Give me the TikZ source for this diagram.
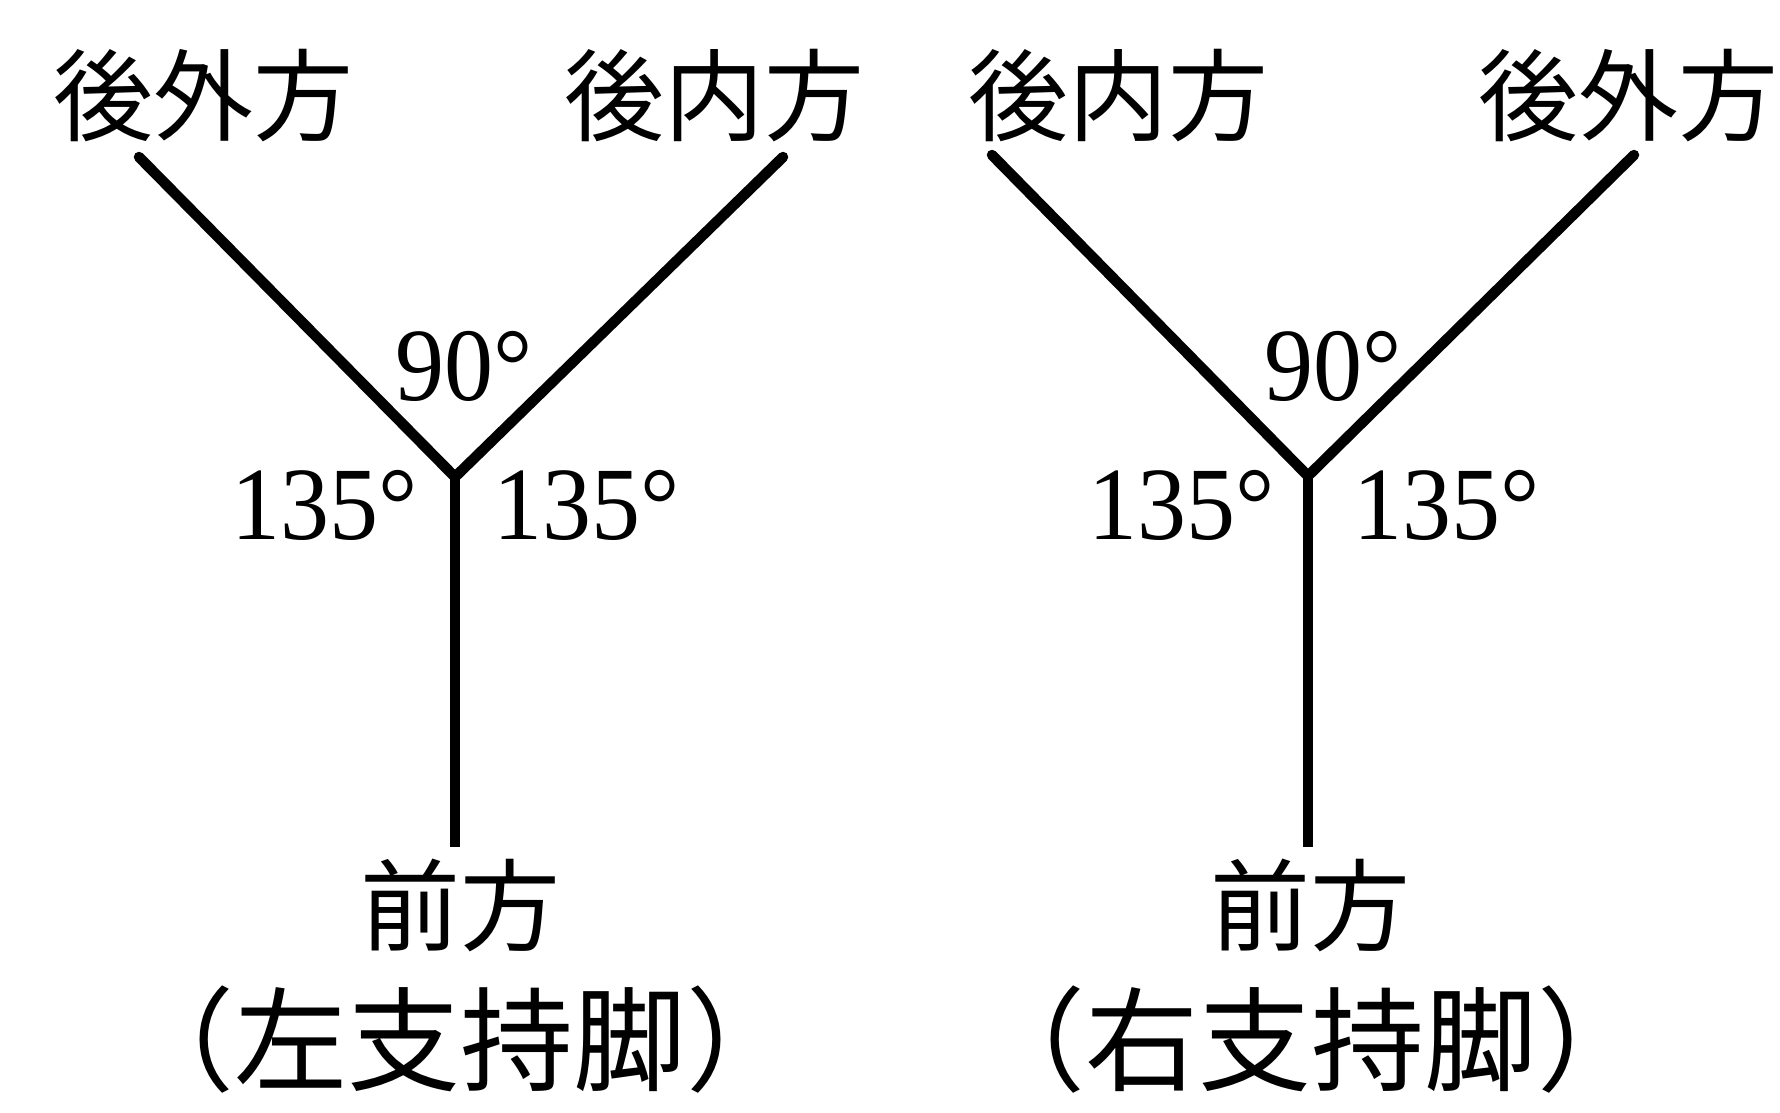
\documentclass[tikz,border=0pt]{standalone}
\usepackage{fontspec}
\setmainfont{Liberation Serif}
\newfontfamily\jpfont{Noto Sans CJK JP}
\tikzset{
  dirlbl/.style={inner sep=0pt, font=\jpfont\fontsize{100}{110}\selectfont},
  leglbl/.style={inner sep=0pt, font=\jpfont\fontsize{113}{120}\selectfont},
  anglbl/.style={inner sep=0pt, font=\fontsize{100}{110}\selectfont},
  legline/.style={line width=10.5pt, black},
}
\newcommand{\angtxt}[1]{\scalebox{0.98}[1.04]{#1}}
\begin{document}
\begin{tikzpicture}[x=1pt,y=-1pt]
\useasboundingbox[fill=white] (0,0) rectangle (1780,1112);
% ---- left figure ----
\node[dirlbl] (L-out) at (203,96) {後外方};
\node[dirlbl] (L-in) at (714,96) {後内方};
\coordinate (L-a) at (139,157);
\coordinate (L-b) at (783,157);
\coordinate (L-j) at (455,477);
\coordinate (L-f) at (455,847);
\draw[legline, line cap=round, line join=miter] (L-a) -- (L-j) -- (L-b);
\draw[legline] (L-j) -- (L-f);
\node[anglbl] (L-90) at (464,366) {\angtxt{90°}};
\node[anglbl] (L-135a) at (325,505) {\angtxt{135°}};
\node[anglbl] (L-135b) at (587,505) {\angtxt{135°}};
\node[dirlbl] (L-front) at (460,905) {前方};
\node[leglbl] (L-cap) at (460,1040) {（左支持脚）};
% ---- right figure ----
\node[dirlbl] (R-in) at (1118,96) {後内方};
\node[dirlbl] (R-out) at (1628,96) {後外方};
\coordinate (R-a) at (992,155);
\coordinate (R-b) at (1634,155);
\coordinate (R-j) at (1308,476);
\coordinate (R-f) at (1308,847);
\draw[legline, line cap=round, line join=miter] (R-a) -- (R-j) -- (R-b);
\draw[legline] (R-j) -- (R-f);
\node[anglbl] (R-90) at (1333,366) {\angtxt{90°}};
\node[anglbl] (R-135a) at (1182,505) {\angtxt{135°}};
\node[anglbl] (R-135b) at (1447,505) {\angtxt{135°}};
\node[dirlbl] (R-front) at (1310,905) {前方};
\node[leglbl] (R-cap) at (1311,1040) {（右支持脚）};
\end{tikzpicture}
\end{document}
